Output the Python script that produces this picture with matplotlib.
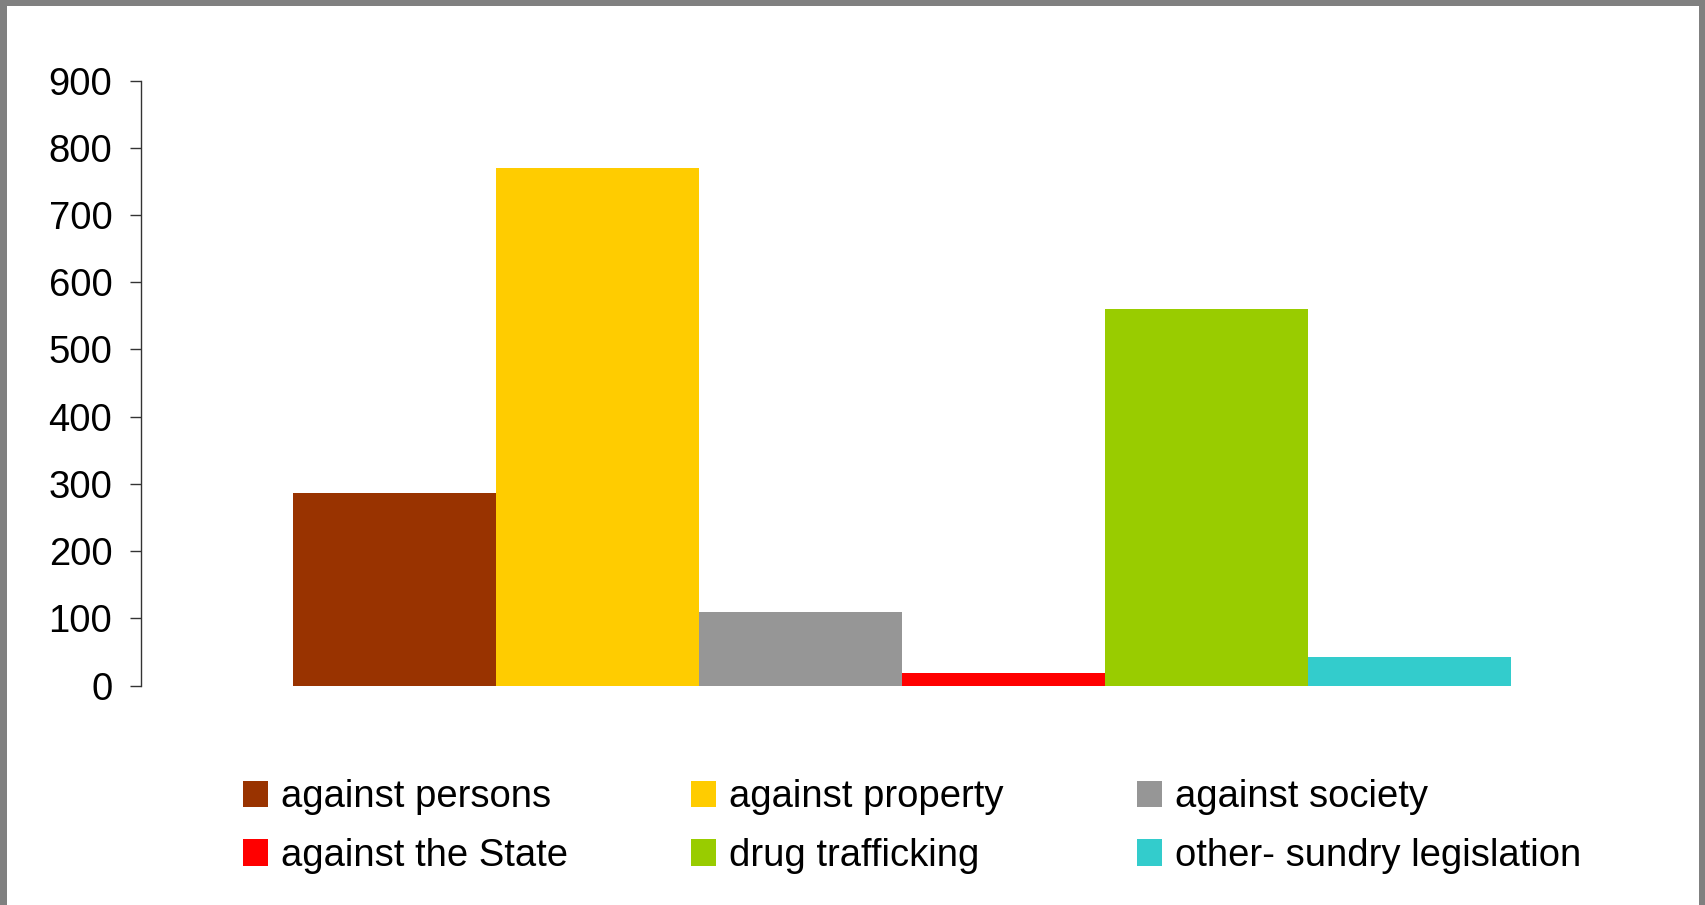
import matplotlib
matplotlib.use("Agg")
import matplotlib.pyplot as plt
from matplotlib.patches import Rectangle, Patch

categories = ["against persons", "against property", "against society",
              "against the State", "drug trafficking", "other- sundry legislation"]
values = [287, 770, 110, 19, 560, 42]
colors = ["#993300", "#FFCC00", "#969696", "#FF0000", "#99CC00", "#33CCCC"]
yticks = [0, 100, 200, 300, 400, 500, 600, 700, 800, 900]

fam = "Liberation Sans"
fs = 27.5
plt.rcParams["font.family"] = [fam, "DejaVu Sans"]

W, H = 1706, 905
fig = plt.figure(figsize=(W / 100, H / 100), dpi=100, facecolor="#808080")
# white page inside grey frame
fig.patches.append(Rectangle((7 / W, 0), (W - 14) / W, (H - 6) / H,
                             transform=fig.transFigure, facecolor="white",
                             edgecolor="none", zorder=-5))

ax = fig.add_axes([141.5 / W, 1 - 685.5 / H, (1662.5 - 141.5) / W, (685.5 - 80.5) / H])
ax.set_facecolor("none")
x = list(range(len(values)))
bars = ax.bar(x, values, width=1.0, color=colors, edgecolor="none")
ax.set_xlim(-1.245, 6.245)
ax.set_ylim(0, 900)
ax.set_yticks(yticks)
ax.set_yticklabels([str(t) for t in yticks], fontsize=fs)
ax.set_xticks([])
for s in ["top", "right", "bottom"]:
    ax.spines[s].set_visible(False)
ax.spines["left"].set_color("#333333")
ax.spines["left"].set_linewidth(1.0)
ax.tick_params(axis="y", direction="out", length=8, width=1.0, color="#333333", pad=13)

col_x = [243, 691, 1137]
for c in range(3):
    idx = [c, c + 3]
    handles = [Patch(facecolor=colors[i], edgecolor="none") for i in idx]
    leg = fig.legend(handles, [categories[i] for i in idx], loc="center left",
                     bbox_to_anchor=(col_x[c] / W, 1 - 826.5 / H),
                     frameon=False, fontsize=fs, borderpad=0, borderaxespad=0,
                     handlelength=0.66, handleheight=0.68, handletextpad=0.34,
                     labelspacing=0.6)

fig.savefig("out.png", dpi=100, facecolor=fig.get_facecolor())
